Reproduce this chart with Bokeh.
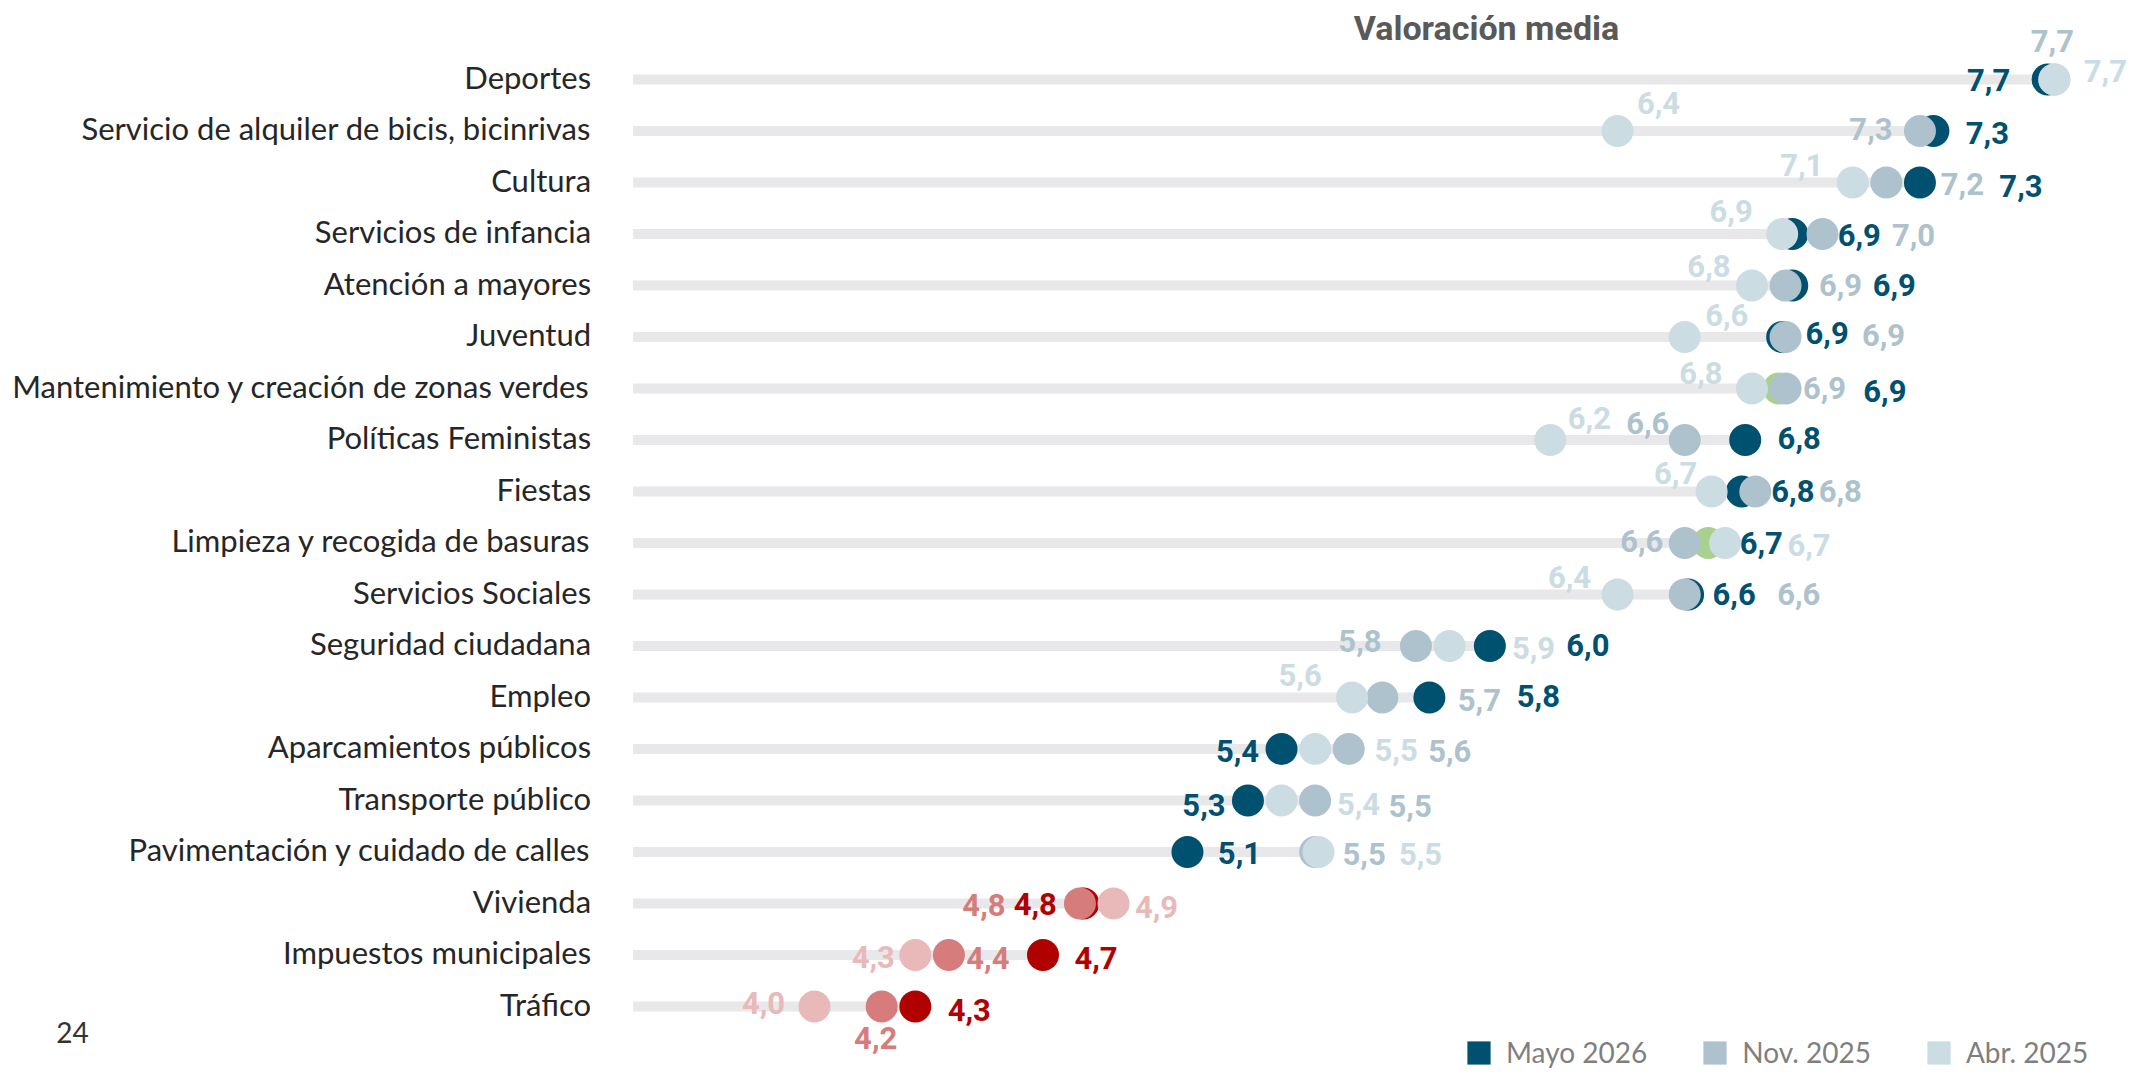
from bokeh.plotting import figure
from bokeh.models import ColumnDataSource, Range1d, Label, Legend, LegendItem
from bokeh.core.properties import value
from bokeh.embed import file_html
from bokeh.resources import INLINE

# ---------------- data ----------------
categorias = [
    "Deportes",
    "Servicio de alquiler de bicis, bicinrivas",
    "Cultura",
    "Servicios de infancia",
    "Atención a mayores",
    "Juventud",
    "Mantenimiento y creación de zonas verdes",
    "Políticas Feministas",
    "Fiestas",
    "Limpieza y recogida de basuras",
    "Servicios Sociales",
    "Seguridad ciudadana",
    "Empleo",
    "Aparcamientos públicos",
    "Transporte público",
    "Pavimentación y cuidado de calles",
    "Vivienda",
    "Impuestos municipales",
    "Tráfico",
]
mayo_2026 = [7.67, 7.33, 7.29, 6.91, 6.91, 6.88, 6.87, 6.77, 6.76, 6.66,
             6.60, 6.01, 5.83, 5.39, 5.29, 5.11, 4.80, 4.68, 4.30]
nov_2025 = [7.69, 7.29, 7.19, 7.00, 6.89, 6.89, 6.89, 6.59, 6.80, 6.59,
            6.59, 5.79, 5.69, 5.59, 5.49, 5.49, 4.79, 4.40, 4.20]
abr_2025 = [7.69, 6.39, 7.09, 6.88, 6.79, 6.59, 6.79, 6.19, 6.67, 6.71,
            6.39, 5.89, 5.60, 5.49, 5.39, 5.50, 4.89, 4.30, 4.00]
series = ["Mayo 2026", "Nov. 2025", "Abr. 2025"]
verdes = ["Mantenimiento y creación de zonas verdes", "Limpieza y recogida de basuras"]
aprobado = 5.0
inicio_barra = 3.46
titulo = "Valoración media"
pagina = "24"

# ---------------- label placement (screen px offsets from each dot) ----------------
off_mayo = [(-59, 3), (54, 5), (101, 6), (67, 4), (102, 2), (45, -1), (106, 5), (54, 1), (51, 2), (53, 3),
            (46, 2), (98, 2), (109, 1), (-44, 5), (-44, 7), (52, 4), (-48, 3), (53, 6), (54, 6)]
off_nov = [(-2, -36), (-49, 1), (76, 4), (91, 4), (55, 2), (98, 1), (39, 2), (-37, -14), (85, 2), (-43, 1),
           (114, 2), (-56, -2), (97, 5), (101, 5), (95, 8), (49, 5), (-96, 4), (39, 6), (-6, 34)]
off_abr = [(51, -6), (41, -25), (-51, -15), (-51, -20), (-43, -17), (42, -19), (-51, -13), (39, -19), (-36, -16), (84, 5),
           (-48, -15), (84, 5), (-52, -20), (81, 4), (77, 6), (102, 5), (43, 6), (-42, 5), (-51, -1)]
AJUSTE_Y = -3  # baseline correction for the SVG text

# ---------------- styles ----------------
AZUL = ["#00506f", "#adc2cd", "#cbdce3"]
ROJO = ["#b00000", "#d67c7c", "#e9b9b9"]
VERDE = "#a9d18e"
BARRA = "#e8e8ea"

W, H = 2130, 1068
PX_UNIT = 336.0
X0_PX = -530.0
ROW0, ROW_STEP = 79.0, 51.5

p = figure(width=W, height=H,
           x_range=Range1d((0 - X0_PX) / PX_UNIT, (W - X0_PX) / PX_UNIT),
           y_range=Range1d((H - ROW0) / ROW_STEP, -ROW0 / ROW_STEP),
           output_backend="svg", toolbar_location=None, min_border=0,
           x_axis_location=None, y_axis_location=None, outline_line_color=None)
for g in p.grid:
    g.visible = False

n = len(categorias)
filas = list(range(n))
maximos = [max(a, b, c) for a, b, c in zip(mayo_2026, nov_2025, abr_2025)]

# background bars
p.segment(x0=[inicio_barra] * n, y0=filas, x1=maximos, y1=filas,
          line_width=10, line_color=BARRA, line_cap="butt")

# category labels
p.text(x=[inicio_barra] * n, y=filas, text=categorias, x_offset=-42, y_offset=AJUSTE_Y,
       text_align="right", text_baseline="middle", text_font=value("Lato"),
       text_font_size="31px", text_color="#262626")


def fmt(v):
    return f"{v:.1f}".replace(".", ",")


valores = [mayo_2026, nov_2025, abr_2025]
offsets = [off_mayo, off_nov, off_abr]
fuentes = []
for k in range(3):
    vals = valores[k]
    colores = []
    colores_punto = []
    for i in range(n):
        pal = ROJO if mayo_2026[i] < aprobado else AZUL
        colores.append(pal[k])
        if k == 0 and categorias[i] in verdes:
            colores_punto.append(VERDE)
        else:
            colores_punto.append(pal[k])
    src = ColumnDataSource(dict(
        x=vals, y=filas, texto=[fmt(v) for v in vals],
        dx=[o[0] for o in offsets[k]], dy=[o[1] + AJUSTE_Y for o in offsets[k]],
        color=colores, color_punto=colores_punto))
    fuentes.append(src)
    p.scatter(x="x", y="y", size=32, fill_color="color_punto", line_color=None, source=src)

for src in fuentes:
    p.text(x="x", y="y", text="texto", x_offset="dx", y_offset="dy", source=src,
           text_align="center", text_baseline="middle", text_font=value("Roboto"),
           text_font_style="bold", text_font_size="31px", text_color="color")

# legend (swatch renderers with no visible extent)
nan = float("nan")
items = []
for k in range(3):
    r = p.quad(left=[nan], right=[nan], top=[nan], bottom=[nan],
               fill_color=AZUL[k], line_color=None)
    items.append(LegendItem(label=series[k], renderers=[r]))
legend = Legend(items=items, orientation="horizontal", location=(1464, -1),
                glyph_width=29, glyph_height=29, label_standoff=13, spacing=53,
                padding=0, margin=0, border_line_color=None, background_fill_alpha=0,
                label_text_font="Lato", label_text_font_size="28px",
                label_text_color="#7f7f7f")
p.add_layout(legend, "center")

p.add_layout(Label(x=1486, y=H - 27, x_units="screen", y_units="screen", text=titulo,
                   text_align="center", text_baseline="middle", text_font="Roboto",
                   text_font_style="bold", text_font_size="34px", text_color="#595959"))
p.add_layout(Label(x=72, y=H - 1032, x_units="screen", y_units="screen", text=pagina,
                   text_align="center", text_baseline="middle", text_font="Lato",
                   text_font_size="28px", text_color="#333333"))

open("out.html", "w").write(file_html(p, INLINE))
